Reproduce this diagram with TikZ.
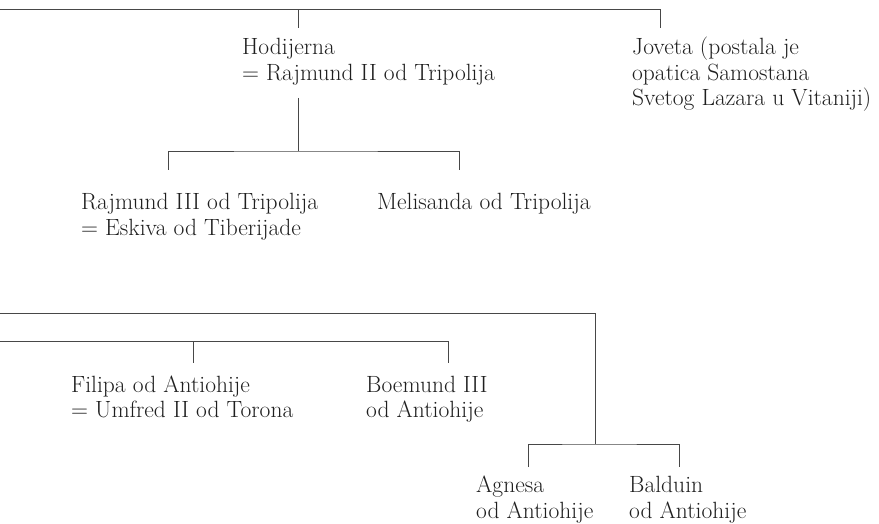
\documentclass[tikz,border=0pt]{standalone}
\begin{document}
\begin{tikzpicture}[x=1pt,y=-1pt,
  person/.style={anchor=base west, align=left, inner sep=0pt, text=black!88,
    font=\fontsize{23.5}{25.5}\selectfont},
  link/.style={draw=black!72, line width=0.9pt}]
\useasboundingbox (0,0) rectangle (879,524);
% people (base anchor = baseline of the last line)
\node[person] (hod) at (242,80.5) {Hodijerna\\= Rajmund II od Tripolija};
\node[person] (jov) at (632,106) {Joveta (postala je\\opatica Samostana\\Svetog Lazara u Vitaniji)};
\node[person] (raj) at (81,235.5) {Rajmund III od Tripolija\\= Eskiva od Tiberijade};
\node[person] (mel) at (377,210) {Melisanda od Tripolija};
\node[person] (fil) at (71,417.5) {Filipa od Antiohije\\= Umfred II od Torona};
\node[person] (boe) at (366,417.5) {Boemund III\\od Antiohije};
\node[person] (agn) at (476,518) {Agnesa\\od Antiohije};
\node[person] (bal) at (629,518) {Balduin\\od Antiohije};
% junction points
\coordinate (busA) at (0,9);
\coordinate (hodUp) at (298,28);
\coordinate (jovUp) at (660,28);
\coordinate (hodDown) at (298,98);
\coordinate (hodBus) at (298,151);
\coordinate (rajUp) at (168,170);
\coordinate (melUp) at (459,170);
\coordinate (busB) at (0,313);
\coordinate (busC) at (0,341);
\coordinate (filUp) at (193,363);
\coordinate (boeUp) at (448,363);
\coordinate (busBEnd) at (595,313);
\coordinate (subBus) at (595,444);
\coordinate (agnUp) at (528,467);
\coordinate (balUp) at (679,467);
% connectors
\draw[link] (hodUp) |- (busA -| jovUp) -- (jovUp);
\draw[link] (busA) -- (busA -| hodUp);
\draw[link] (hodDown) -- (hodBus);
\draw[link] (rajUp) |- (hodBus) -| (melUp);
\draw[link] (busB) -- (busBEnd) -- (subBus);
\draw[link] (busC) -| (filUp);
\draw[link] (busC -| filUp) -| (boeUp);
\draw[link] (agnUp) |- (subBus) -| (balUp);
\end{tikzpicture}
\end{document}
